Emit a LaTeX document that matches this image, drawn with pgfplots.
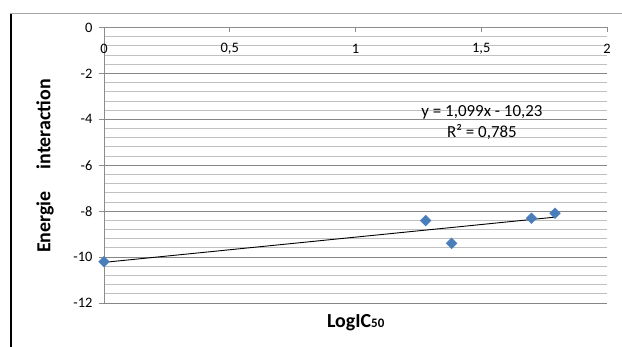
\documentclass[border=0pt]{standalone}
\usepackage{pgfplots}
\pgfplotsset{compat=1.18}
\usepackage{fontspec}
\setmainfont{Carlito}
\definecolor{exblue}{HTML}{4A7EBB}
\definecolor{majgrid}{HTML}{868686}
\definecolor{mingrid}{HTML}{C0C0C0}
\begin{document}
\begin{tikzpicture}
\useasboundingbox (0,0) rectangle (622bp,347bp);
\draw[line width=2.2bp,black] (11bp,0) -- (11bp,334bp);
\draw[line width=0.8bp,gray!70] (10bp,334bp) -- (622bp,334bp);
\begin{axis}[
  at={(104bp,44bp)}, anchor=south west,
  scale only axis, width=503bp, height=275.5bp,
  xmin=0, xmax=2, ymin=-12, ymax=0,
  axis x line=top, axis y line=left,
  axis line style={-, draw=gray!90, line width=0.9bp},
  xtick={0,0.5,1,1.5,2}, ytick={0,-2,-4,-6,-8,-10,-12},
  minor y tick num=4,
  xtick align=inside, ytick align=outside,
  major tick length=5bp, minor tick length=0pt,
  tick style={gray!90, line width=0.9bp},
  ymajorgrids, yminorgrids,
  major grid style={majgrid, line width=0.9bp},
  minor grid style={mingrid, line width=0.9bp},
  /pgf/number format/use comma,
  /pgf/number format/assume math mode=true,
  ticklabel style={font=\fontsize{14.5}{16}\selectfont},
  xticklabel style={yshift=-30bp},
  yticklabel style={xshift=-3bp},
  clip=false,
]
\addplot[black, line width=0.9bp] coordinates {(0,-10.23) (1.793,-8.26)};
\addplot[only marks, mark=square*, mark size=3.8bp, mark options={rotate=45, fill=exblue, draw=exblue}] coordinates {
  (0,-10.2) (1.279,-8.41) (1.382,-9.40) (1.70,-8.31) (1.793,-8.09)};
\node[align=center, font=\fontsize{17}{21}\selectfont] at (axis cs:1.503,-4.14) {y = 1,099x - 10,23\\R² = 0,785};
\end{axis}
\node[anchor=base, font=\fontsize{20}{22}\selectfont\bfseries] at (355.7bp,19.7bp) {LogIC{\fontsize{13}{14}\selectfont 50}};
\node[rotate=90, font=\fontsize{20}{22}\selectfont\bfseries] at (45bp,181bp) {Energie\hspace{22bp}interaction};
\end{tikzpicture}
\end{document}
